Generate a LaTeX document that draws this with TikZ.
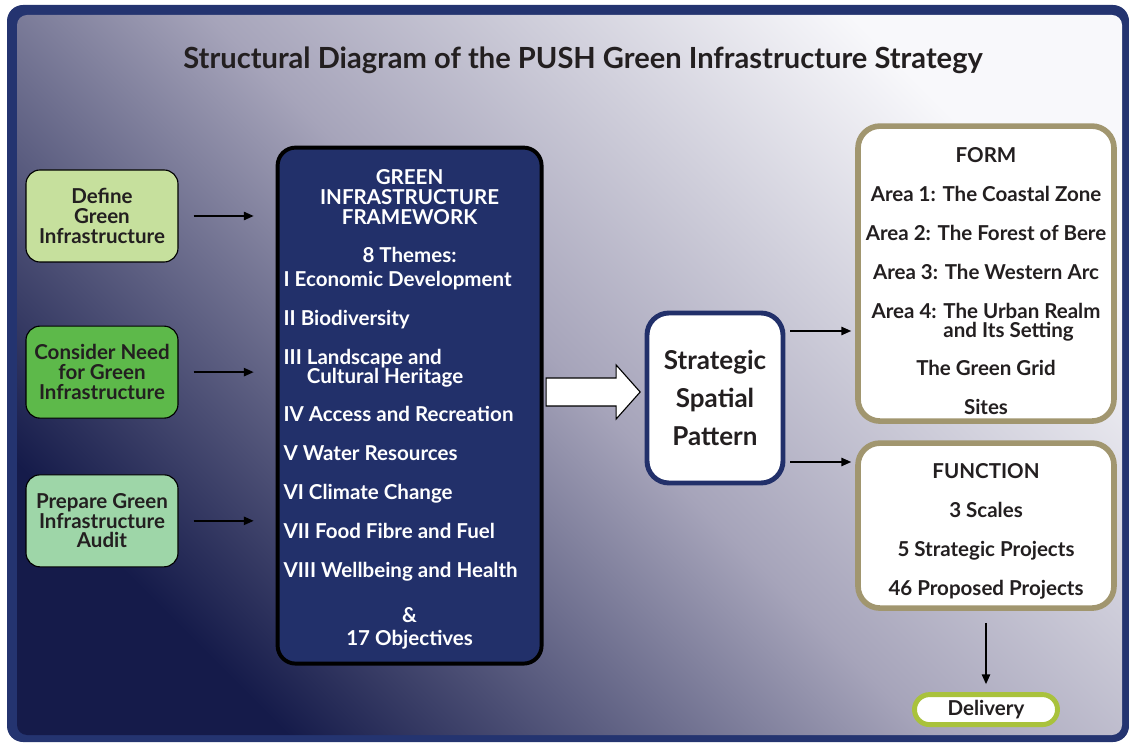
\documentclass[tikz,border=0pt]{standalone}
\usepackage{fontspec}
\setmainfont{Lato}
\usetikzlibrary{positioning,arrows.meta,calc}
\definecolor{pushnavy}{HTML}{22306A}
\definecolor{framenavy}{HTML}{243470}
\definecolor{shadedark}{HTML}{151B4A}
\definecolor{shademid}{HTML}{A6A4BA}
\definecolor{shadelight}{HTML}{F8F8FB}
\definecolor{leafgreen}{HTML}{C6E09D}
\definecolor{grassgreen}{HTML}{5DB94A}
\definecolor{mintgreen}{HTML}{9ED6A8}
\definecolor{formtan}{HTML}{A1966F}
\definecolor{deliverylime}{HTML}{A9C23C}
\definecolor{inkgrey}{HTML}{231F20}

\tikzset{
  stepbox/.style={draw=black, line width=0.8pt, rounded corners=0.35cm,
    minimum width=3.8cm, minimum height=2.3cm, align=center, text=inkgrey,
    font=\fontsize{14.6}{14}\selectfont\bfseries},
  outbox/.style={draw=formtan, line width=4pt, fill=white, rounded corners=0.55cm,
    minimum width=6.4cm, align=center, text=inkgrey,
    font=\fontsize{14.6}{14}\selectfont\bfseries},
  flow/.style={-{Triangle[length=7pt,width=6pt]}, line width=1pt},
}

\begin{document}
\begin{tikzpicture}
    \useasboundingbox (0,0) rectangle (28.225,-18.6);

    % frame and shaded panel
    \fill[framenavy, rounded corners=0.4cm] (0.175,-0.125) rectangle (28.225,-18.55);
    \shade[rounded corners=0.25cm, top color=shadelight, bottom color=shadedark,
        middle color=shademid, shading angle=-45] (0.425,-0.375) rectangle (28.05,-18.375);

    % title
    \node[text=inkgrey, font=\fontsize{20.7}{21}\selectfont\bfseries] (title) at (14.575,-1.5)
        {Structural Diagram of the PUSH Green Infrastructure Strategy};

    % inputs on the left
    \node[stepbox, fill=leafgreen] (def) at (2.55,-5.4) {Define\\Green\\Infrastructure};
    \node[stepbox, fill=grassgreen, below=1.575cm of def] (cons) {Consider Need\\for Green\\Infrastructure};
    \node[stepbox, fill=mintgreen, below=1.39cm of cons] (prep) {Prepare Green\\Infrastructure\\Audit};

    % framework
    \node[draw=black, line width=2.8pt, fill=pushnavy, rounded corners=0.45cm,
        minimum width=6.6cm, minimum height=12.9cm, inner sep=0pt, text=white] (gif) at (10.24,-10.14) {
        \begin{minipage}{6.3cm}
        \fontsize{14.6}{14}\selectfont\bfseries
        \vspace*{5.6pt}
        \centering
        GREEN\\INFRASTRUCTURE\\FRAMEWORK\\[13pt]
        8 Themes:\par\vspace{3pt}
        \raggedright
        I Economic Development\\[13.7pt]
        II Biodiversity\\[13.7pt]
        III Landscape and\\
        \phantom{III }Cultural Heritage\\[13pt]
        IV Access and Recreation\\[13.7pt]
        V Water Resources\\[13.7pt]
        VI Climate Change\\[13.7pt]
        VII Food Fibre and Fuel\\[13.7pt]
        VIII Wellbeing and Health\par\vspace{18pt}
        \centering
        \&\\[2.4pt]
        17 Objectives\par
        \end{minipage}
    };

    % spatial pattern
    \node[draw=pushnavy, line width=3.5pt, fill=white, rounded corners=0.55cm,
        minimum width=3.4cm, minimum height=4.25cm, align=center, text=inkgrey,
        font=\fontsize{18.5}{18}\selectfont\bfseries] (ssp) at (17.875,-9.95)
        {Strategic\\[9pt]Spatial\\[9pt]Pattern};

    % broad arrow from the framework to the pattern
    \coordinate (bigtail) at ([shift={(0.065,0.34)}]gif.east);
    \draw[line width=0.8pt, fill=white] (bigtail) ++(0,0.35) -- ++(1.75,0) -- ++(0,0.325)
        -- ++(0.6,-0.675) -- ++(-0.6,-0.675) -- ++(0,0.325) -- ++(-1.75,0) -- cycle;

    % outcomes
    \node[outbox, minimum height=7.375cm] (form) at (24.65,-6.84) {
        FORM\rule{0pt}{21.5pt}\\[13.7pt]
        Area 1: The Coastal Zone\\[13.7pt]
        Area 2: The Forest of Bere\\[13.7pt]
        Area 3: The Western Arc\\[13.7pt]
        Area 4: The Urban Realm\\
        {\setbox0\hbox{Area 4: The Urban Realm}\makebox[\wd0][l]{\phantom{Area 4: }and Its Setting}}\\[13pt]
        The Green Grid\\[13.7pt]
        Sites};
    \node[outbox, minimum height=4.125cm] (funct) at (24.65,-13.14) {
        FUNCTION\rule{0pt}{19pt}\\[14pt]
        3 Scales\\[13.7pt]
        5 Strategic Projects\\[13.7pt]
        46 Proposed Projects};

    \node[draw=deliverylime, line width=3.5pt, fill=white, rounded corners=0.375cm,
        minimum width=3.575cm, minimum height=0.75cm, inner sep=0pt, text=inkgrey,
        font=\fontsize{14.6}{14}\selectfont\bfseries] (del) at (24.65,-17.74) {Delivery};

    % connectors
    \draw[flow, shorten <=0.375cm, shorten >=0.55cm] (def) -- (def -| gif.west);
    \draw[flow, shorten <=0.375cm, shorten >=0.55cm] (cons) -- (cons -| gif.west);
    \draw[flow, shorten <=0.375cm, shorten >=0.55cm] (prep) -- (prep -| gif.west);
    \draw[flow, shorten <=0.12cm, shorten >=0.1cm] ([yshift=1.675cm]ssp.east) -- ([yshift=1.675cm]ssp.east -| form.west);
    \draw[flow, shorten <=0.12cm, shorten >=0.1cm] ([yshift=-1.6cm]ssp.east) -- ([yshift=-1.6cm]ssp.east -| funct.west);
    \draw[flow, shorten <=0.3cm, shorten >=0.2cm] (funct.south) -- (del.north);
\end{tikzpicture}
\end{document}
